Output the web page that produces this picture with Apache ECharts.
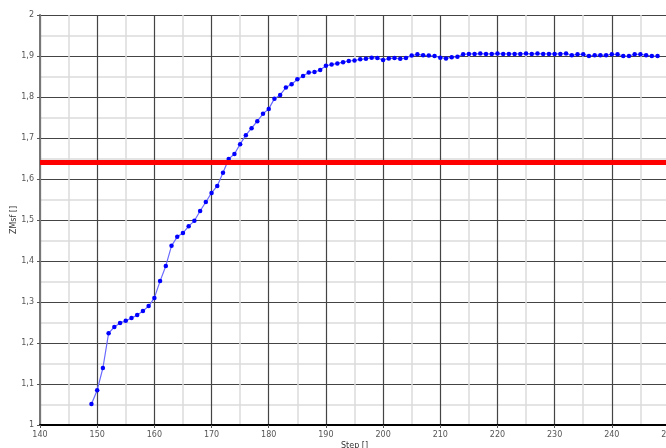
<!DOCTYPE html>
<html>
<head>
<meta charset="utf-8">
<script src="https://cdn.jsdelivr.net/npm/echarts@6/dist/echarts.min.js"></script>
<style>html,body{margin:0;padding:0;background:#fff;}#c{width:666px;height:448px;}</style>
</head>
<body>
<div id="c"></div>
<script>
const steps = [];
for (let s = 149; s <= 248; s++) steps.push(s);
const zmsf = [
  1.051, 1.085, 1.139, 1.224, 1.239, 1.249, 1.254, 1.261, 1.268, 1.278,
  1.290, 1.310, 1.351, 1.388, 1.437, 1.459, 1.468, 1.485, 1.498, 1.522,
  1.544, 1.566, 1.583, 1.615, 1.649, 1.661, 1.685, 1.707, 1.724, 1.741,
  1.759, 1.771, 1.796, 1.805, 1.823, 1.831, 1.843, 1.851, 1.860, 1.861,
  1.866, 1.876, 1.879, 1.882, 1.885, 1.888, 1.889, 1.892, 1.893, 1.896,
  1.895, 1.890, 1.894, 1.895, 1.893, 1.895, 1.901, 1.904, 1.902, 1.901,
  1.900, 1.896, 1.894, 1.897, 1.898, 1.904, 1.905, 1.905, 1.906, 1.905,
  1.905, 1.906, 1.905, 1.905, 1.905, 1.905, 1.906, 1.905, 1.906, 1.905,
  1.905, 1.905, 1.905, 1.906, 1.902, 1.904, 1.904, 1.900, 1.902, 1.902,
  1.902, 1.904, 1.904, 1.900, 1.900, 1.904, 1.904, 1.902, 1.900, 1.900
];
const threshold = [1.64];
const points = steps.map((s, i) => [s, zmsf[i]]);

const chart = echarts.init(document.getElementById('c'));
const lbl = { color: '#555', fontSize: 8, fontFamily: 'DejaVu Sans' };
chart.setOption({
  animation: false,
  grid: { left: 40, top: 15, right: -3, bottom: 23, containLabel: false, outerBoundsMode: 'none' },
  xAxis: {
    type: 'value', min: 140, max: 250, interval: 10,
    name: 'Step []', nameLocation: 'middle', nameGap: 17, nameMoveOverlap: false,
    nameTextStyle: { color: '#333', fontSize: 8, fontFamily: 'DejaVu Sans' },
    axisLine: { show: true, onZero: false, lineStyle: { color: '#000', width: 2 } },
    axisTick: { show: true, length: 3, lineStyle: { color: '#555' } },
    axisLabel: Object.assign({ margin: 6 }, lbl),
    splitLine: { show: true, lineStyle: { color: '#444', width: 1.2 } },
    minorTick: { show: false, splitNumber: 2 },
    minorSplitLine: { show: true, lineStyle: { color: '#dcdcdc', width: 1.5 } }
  },
  yAxis: {
    type: 'value', min: 1, max: 2, interval: 0.1,
    name: 'ZMsf []', nameLocation: 'middle', nameGap: 22, nameMoveOverlap: false,
    nameTextStyle: { color: '#333', fontSize: 8, fontFamily: 'DejaVu Sans' },
    axisLine: { show: true, onZero: false, lineStyle: { color: '#777', width: 2 } },
    axisTick: { show: true, length: 3, lineStyle: { color: '#555' } },
    axisLabel: Object.assign({
      margin: 6,
      formatter: v => String(Math.round(v * 10) / 10).replace('.', ',')
    }, lbl),
    splitLine: { show: true, lineStyle: { color: '#444', width: 1.2 } },
    minorTick: { show: false, splitNumber: 2 },
    minorSplitLine: { show: true, lineStyle: { color: '#dcdcdc', width: 1.5 } }
  },
  series: [{
    type: 'line',
    data: points,
    symbol: 'circle',
    symbolSize: 4.5,
    itemStyle: { color: '#0000ff' },
    lineStyle: { color: '#6a6aff', width: 1.2 },
    markLine: {
      silent: true,
      symbol: ['none', 'none'],
      label: { show: false },
      lineStyle: { color: '#ff0000', width: 5, type: 'solid' },
      data: threshold.map(v => ({ yAxis: v }))
    },
    z: 3
  }]
});
</script>
</body>
</html>
